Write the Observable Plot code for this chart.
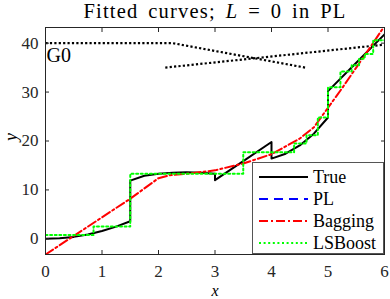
<!DOCTYPE html>
<html><head><meta charset="utf-8">
<script src="https://cdn.jsdelivr.net/npm/d3@7"></script>
<script src="https://cdn.jsdelivr.net/npm/@observablehq/plot@0.6"></script>
<style>
body{margin:0;background:#fff;}
#wrap{position:relative;width:390px;height:299px;font-family:"Liberation Serif",serif;}
#title{position:absolute;left:0;width:430px;top:0px;line-height:normal;text-align:center;font-size:20.5px;color:#000;white-space:nowrap;letter-spacing:1.2px;word-spacing:3.5px;}
#legend{position:absolute;left:252px;top:162px;}
svg{display:block;}
</style>
</head><body>
<div id="wrap"><div id="title">Fitted curves; <i>L</i> = 0 in PL</div></div>
<script>
// True curve
const trueX = [0, 0.25, 0.5, 0.75, 1.0, 1.25, 1.5, 1.5, 1.75, 2.0, 2.25, 2.5, 2.75, 3.0, 3.0, 3.5, 4.0, 4.0, 4.25, 4.5, 4.75, 5.0, 5.0, 5.5, 6.0];
const trueY = [0, 0.1, 0.4, 0.9, 1.6, 2.5, 3.6, 11.9, 12.9, 13.3, 13.5, 13.6, 13.5, 13.3, 12.0, 15.9, 19.8, 16.4, 17.4, 19.1, 21.5, 24.8, 30.2, 36.0, 41.8];
// Bagging
const bagX = [0, 0.5, 1.0, 1.5, 2.0, 2.2, 2.5, 3.0, 3.5, 4.0, 4.5, 4.75, 5.0, 5.25, 5.5, 5.75, 6.0];
const bagY = [-3.2, 0.6, 4.4, 8.2, 12.4, 13.0, 13.3, 14.0, 15.4, 17.3, 20.5, 22.8, 26.8, 30.8, 35.0, 39.2, 43.5];
// LSBoost (step edges and values)
const lsbX = [0, 0.85, 1.5, 3.5, 4.4, 4.62, 4.82, 5.0, 5.22, 5.42, 5.55, 5.65, 5.8, 6.0];
const lsbY = [0.8, 2.5, 13.3, 17.7, 19.5, 21.2, 24.8, 31.0, 34.2, 35.5, 36.8, 37.8, 40.6, 40.6];
// G0 dotted guides
const g0aX = [0, 2.25, 4.6];
const g0aY = [40, 40, 35];
const g0bX = [2.12, 6];
const g0bY = [35, 39.7];
const g0Label = "G0";
// ticks
const xTicks = [0, 1, 2, 3, 4, 5, 6];
const yTicks = [0, 10, 20, 30, 40];
// legend
const legendLabels = ["True", "PL", "Bagging", "LSBoost"];
const legendColors = ["#000000", "#0000ff", "#ff0000", "#00ff00"];
const legendDash = [null, "9,6", "9,3,2,3", "2,2.6"];

const zip = (xs, ys) => xs.map((x, i) => ({x, y: ys[i]}));
const trueData = zip(trueX, trueY);
const bagData = zip(bagX, bagY);
const lsbData = zip(lsbX, lsbY);
const g0a = zip(g0aX, g0aY);
const g0b = zip(g0bX, g0bY);

const axisColor = "#262626";
const chart = Plot.plot({
  width: 390, height: 299,
  marginLeft: 45, marginRight: 6, marginTop: 27, marginBottom: 45,
  style: {fontFamily: "'Liberation Serif', serif", fontSize: "17px", color: axisColor, background: "transparent"},
  x: {domain: [0, 6], label: null},
  y: {domain: [-3.2, 43.2], label: null},
  marks: [
    Plot.line(g0a, {x: "x", y: "y", stroke: "#000", strokeWidth: 2.2, strokeDasharray: "2.2,2.2", strokeLinecap: "butt"}),
    Plot.line(g0b, {x: "x", y: "y", stroke: "#000", strokeWidth: 2.2, strokeDasharray: "2.2,2.2", strokeLinecap: "butt"}),
    Plot.text([g0a[0]], {x: "x", y: "y", text: () => g0Label, textAnchor: "start", lineAnchor: "top", dx: 1, dy: 5, fontSize: 20, fill: "#000"}),
    Plot.line(trueData, {x: "x", y: "y", stroke: "#000", strokeWidth: 2, clip: true}),
    Plot.line(bagData, {x: "x", y: "y", stroke: "#ff0000", strokeWidth: 2, strokeDasharray: "9,3,2,3", clip: true}),
    Plot.line(lsbData, {x: "x", y: "y", curve: "step-after", stroke: "#00ff00", strokeWidth: 2, strokeDasharray: "2,2.6", clip: true}),
    Plot.frame({stroke: axisColor}),
    Plot.axisX(xTicks, {anchor: "bottom", tickSize: -4, tickPadding: 14, label: null}),
    Plot.axisX(xTicks, {anchor: "top", tickSize: -4, tickFormat: () => "", label: null}),
    Plot.axisY(yTicks, {anchor: "left", tickSize: -4, tickPadding: 11, label: null}),
    Plot.axisY(yTicks, {anchor: "right", tickSize: -4, tickFormat: () => "", label: null}),
    Plot.text(["x"], {frameAnchor: "bottom", text: d => d, dy: 41, lineAnchor: "bottom", fontStyle: "italic", fontSize: 16, fill: "#000"}),
    Plot.text(["y"], {frameAnchor: "left", text: d => d, dx: -34, rotate: -90, fontStyle: "italic", fontSize: 18, fill: "#000"})
  ]
});
const wrap = document.getElementById("wrap");
wrap.insertBefore(chart, wrap.firstChild);

// legend
const lg = d3.select(wrap).append("svg").attr("id", "legend").attr("width", 133).attr("height", 93);
lg.append("rect").attr("x", 0.5).attr("y", 0.5).attr("width", 131).attr("height", 91)
  .attr("fill", "#fff").attr("stroke", "#555").attr("stroke-width", 1);
legendLabels.forEach((lab, i) => {
  const cy = 15 + i * 22;
  lg.append("line").attr("x1", 7).attr("x2", 56).attr("y1", cy).attr("y2", cy)
    .attr("stroke", legendColors[i]).attr("stroke-width", 2)
    .attr("stroke-dasharray", legendDash[i]);
  lg.append("text").attr("x", 61).attr("y", cy).attr("dy", "0.35em")
    .attr("font-family", "'Liberation Serif', serif").attr("font-size", 18).attr("fill", "#000").text(lab);
});
</script>
</body></html>
